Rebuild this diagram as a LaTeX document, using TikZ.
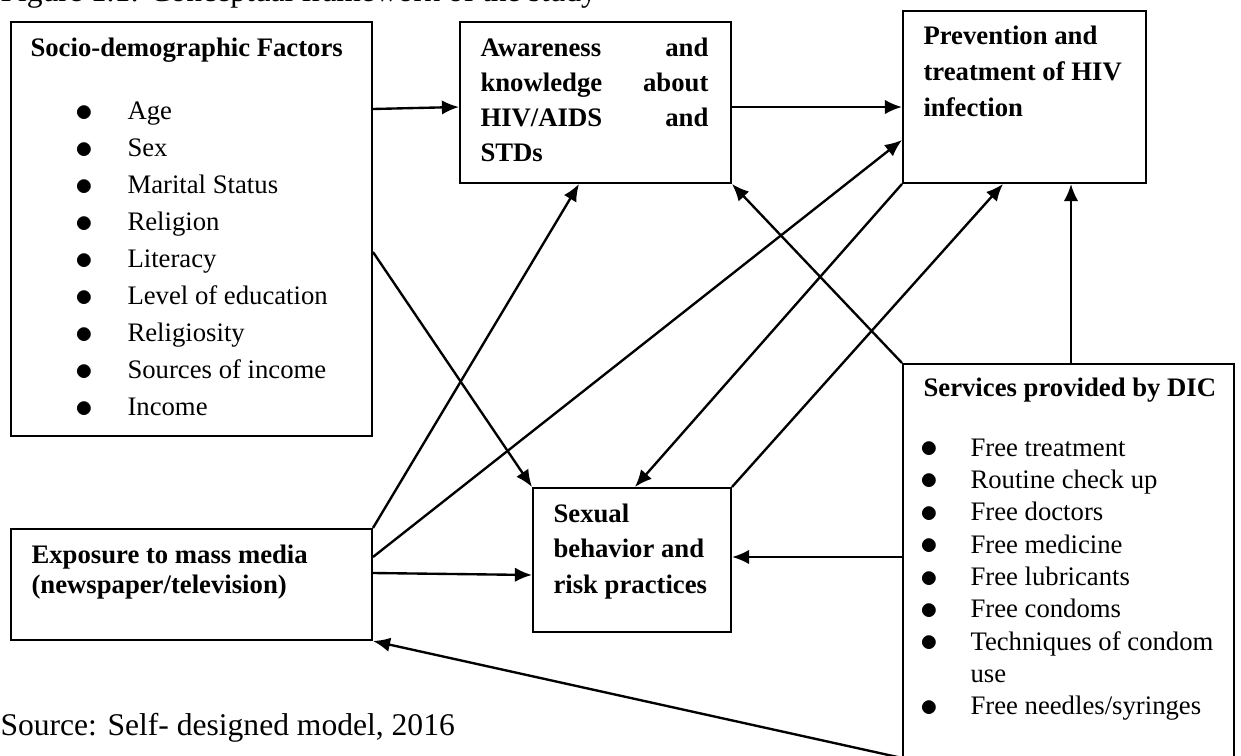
\documentclass[tikz,border=0pt]{standalone}
\usepackage{fontspec}
\usepackage{graphicx}
\setmainfont{Liberation Serif}
\usetikzlibrary{calc,arrows.meta}
\newcommand\bxfont{\fontsize{10.15}{12}\selectfont}
\newcommand\bigbul{\raisebox{-0.6pt}{\scalebox{1.35}{$\bullet$}}}
\newcommand\sdItem[1]{\hbox{\hbox to 13.68pt{\hss\bigbul\hss}\hskip 9.5pt #1}}
\newcommand\svItem[1]{\hbox{\hbox to 10.64pt{\hss\bigbul\hss}\hskip 10.26pt #1}}
\tikzset{
  box/.style={draw, line width=0.75pt, inner sep=0pt, anchor=north west},
  txt/.style={inner sep=0pt, anchor=base west, font=\bxfont},
  conn/.style={line width=0.9pt, -{Latex[length=6.5pt,width=5.5pt]}},
}
\begin{document}
\begin{tikzpicture}[x=0.38pt, y=-0.38pt]
\useasboundingbox (0,0) rectangle (1241,755);
\clip (0,0) rectangle (1241,755);
% caption (cut off at the top, as in the reference)
\node[inner sep=0pt, anchor=base west, font=\fontsize{12}{14}\selectfont] (cap) at (0,1.5) {Figure 1.1: Conceptual framework of the study};
% boxes
\node[box, minimum width=137.18pt, minimum height=157.32pt] (sd) at (10,21) {};
\node[box, minimum width=102.98pt, minimum height=61.18pt] (aw) at (459,21) {};
\node[box, minimum width=92.34pt, minimum height=65.36pt] (pv) at (902,10) {};
\node[box, minimum width=125.78pt, minimum height=166.06pt] (sv) at (902,363) {};
\node[box, minimum width=137.18pt, minimum height=42.18pt] (ex) at (10,528) {};
\node[box, minimum width=75.24pt, minimum height=54.72pt] (sx) at (532,487) {};
% texts
\node[txt, font=\bxfont\bfseries] (sdT) at (30,57) {Socio-demographic Factors};
\node[txt] (sdL) at (66,120) {\vtop{\baselineskip=14.06pt
  \sdItem{Age}\sdItem{Sex}\sdItem{Marital Status}\sdItem{Religion}\sdItem{Literacy}
  \sdItem{Level of education}\sdItem{Religiosity}\sdItem{Sources of income}\sdItem{Income}}};
\node[txt, font=\bxfont\bfseries] (awT) at (480,57) {\vtop{\baselineskip=13.3pt
  \hbox to 86.6pt{Awareness\hfill and}
  \hbox to 86.6pt{knowledge\hfill about}
  \hbox to 86.6pt{HIV/AIDS\hfill and}
  \hbox{STDs}}};
\node[txt, font=\bxfont\bfseries] (pvT) at (923,45) {\vtop{\baselineskip=13.5pt
  \hbox{Prevention and}\hbox{treatment of HIV}\hbox{infection}}};
\node[txt, font=\bxfont\bfseries] (svT) at (923,396) {Services provided by DIC};
\node[txt] (svL) at (915,456) {\vtop{\baselineskip=12.3pt
  \svItem{Free treatment}\svItem{Routine check up}\svItem{Free doctors}\svItem{Free medicine}
  \svItem{Free lubricants}\svItem{Free condoms}\svItem{Techniques of condom}
  \hbox{\hskip 20.9pt use}\svItem{Free needles/syringes}}};
\node[txt, font=\bxfont\bfseries] (exT) at (31,563) {\vtop{\baselineskip=11.4pt
  \hbox{Exposure to mass media}\hbox{(newspaper/television)}}};
\node[txt, font=\bxfont\bfseries] (sxT) at (553,522) {\vtop{\baselineskip=13.5pt
  \hbox{Sexual}\hbox{behavior and}\hbox{risk practices}}};
\node[inner sep=0pt, anchor=base west, font=\fontsize{12}{14}\selectfont] (src) at (0,735) {Source: Self- designed model, 2016};
% connectors
\draw[conn] ($(sd.north east)+(0,88)$) -- ($(aw.north west)+(0,86)$);
\draw[conn] ($(aw.north east)+(0,86)$) -- ($(pv.north west)+(0,97)$);
\draw[conn] ($(sd.north east)+(0,231)$) -- (sx.north west);
\draw[conn] (ex.north east) -- ($(aw.south west)+(120,0)$);
\draw[conn] ($(ex.north east)+(0,29)$) -- ($(pv.north west)+(0,130)$);
\draw[conn] ($(ex.north east)+(0,45)$) -- ($(sx.north west)+(0,88)$);
\draw[conn] (pv.south west) -- ($(sx.north west)+(103,0)$);
\draw[conn] (sx.north east) -- ($(pv.south west)+(101,0)$);
\draw[conn] (sv.north west) -- (aw.south east);
\draw[conn] ($(sv.north west)+(0,194)$) -- ($(sx.north east)+(0,70)$);
\draw[conn] ($(sv.north west)+(169,0)$) -- ($(pv.south west)+(169,0)$);
\draw[conn] ($(sv.north west)+(0,395)$) -- (ex.south east);
\end{tikzpicture}
\end{document}
